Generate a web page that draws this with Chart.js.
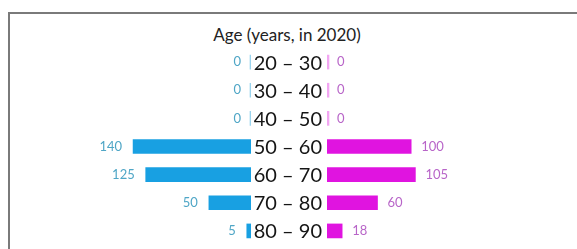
<!DOCTYPE html>
<html>
<head>
<meta charset="utf-8">
<script src="https://cdn.jsdelivr.net/npm/chart.js@4/dist/chart.umd.min.js"></script>
<style>
	body { margin: 0; background: #fff; }
	#wrap { position: relative; width: 577px; height: 249px; overflow: hidden; }
	#frame { position: absolute; left: 8px; top: 12px; width: 600px; height: 260px; border-left: 2px solid #7a7a7a; border-top: 2px solid #7a7a7a; }
	#title { position: absolute; left: 167px; width: 240px; top: 24px; text-align: center; font: 17px Lato, sans-serif; color: #222; }
	#left { position: absolute; left: 0; top: 0; }
	#right { position: absolute; left: 240px; top: 0; }
</style>
</head>
<body>
<div id="wrap">
	<div id="frame"></div>
	<div id="title">Age (years, in 2020)</div>
	<canvas id="left" width="251" height="249"></canvas>
	<canvas id="right" width="337" height="249"></canvas>
</div>
<script>
// age groups, top to bottom
var ageGroups = ['20 – 30', '30 – 40', '40 – 50', '50 – 60', '60 – 70', '70 – 80', '80 – 90'];
var leftValues = [0, 0, 0, 140, 125, 50, 5];
var rightValues = [0, 0, 0, 100, 105, 60, 18];

var blue = '#18a0e2', blueLight = '#9ad4ee', blueText = '#4fa6c6';
var pink = '#e014e0', pinkLight = '#f2a6f2', pinkText = '#b865c8';

// draws the number next to each bar (and the age group in the middle)
var valueLabels = {
	id: 'valueLabels',
	afterDatasetsDraw: function(chart, args, opts){
		var ctx = chart.ctx;
		var meta = chart.getDatasetMeta(0);
		var vals = chart.data.datasets[0].data;
		ctx.save();
		ctx.font = '13px Lato, sans-serif';
		ctx.fillStyle = opts.color;
		ctx.textBaseline = 'middle';
		meta.data.forEach(function(bar, i){
			if (opts.side === 'left') {
				var end = Math.min(bar.x, bar.base);
				ctx.textAlign = 'right';
				ctx.fillText(String(vals[i]), end - (vals[i] ? 11 : 9), bar.y);
			} else {
				var end2 = Math.max(bar.x, bar.base);
				ctx.textAlign = 'left';
				ctx.fillText(String(vals[i]), end2 + (vals[i] ? 10 : 8), bar.y);
			}
		});
		if (opts.side === 'right') {
			var yScale = chart.scales.y;
			ctx.font = '20px Lato, sans-serif';
			ctx.fillStyle = '#151515';
			ctx.textAlign = 'right';
			chart.data.labels.forEach(function(lab, i){
				ctx.fillText(lab, chart.chartArea.left - 5, yScale.getPixelForValue(i) + 1);
			});
		}
		ctx.restore();
	}
};

var leftChart = new Chart(document.getElementById('left').getContext('2d'), {
	type: 'bar',
	plugins: [valueLabels],
	data: {
		labels: ageGroups,
		datasets: [{
			data: leftValues,
			backgroundColor: leftValues.map(function(v){ return v ? blue : blueLight; }),
			barThickness: 14,
			minBarLength: 2
		}]
	},
	options: {
		indexAxis: 'y',
		responsive: false,
		animation: false,
		layout: { padding: { top: 48, bottom: 4, left: 0, right: 0 } },
		plugins: {
			legend: { display: false },
			tooltip: { enabled: false },
			valueLabels: { side: 'left', color: blueText }
		},
		scales: {
			x: { display: false, reverse: true, min: 0, max: 298 },
			y: { display: false }
		}
	}
});

var rightChart = new Chart(document.getElementById('right').getContext('2d'), {
	type: 'bar',
	plugins: [valueLabels],
	data: {
		labels: ageGroups,
		datasets: [{
			data: rightValues,
			backgroundColor: rightValues.map(function(v){ return v ? pink : pinkLight; }),
			barThickness: 14,
			minBarLength: 2
		}]
	},
	options: {
		indexAxis: 'y',
		responsive: false,
		animation: false,
		layout: { padding: { top: 48, bottom: 4, left: 87, right: 0 } },
		plugins: {
			legend: { display: false },
			tooltip: { enabled: false },
			valueLabels: { side: 'right', color: pinkText }
		},
		scales: {
			x: { display: false, min: 0, max: 297 },
			y: { display: false }
		}
	}
});
</script>
</body>
</html>
